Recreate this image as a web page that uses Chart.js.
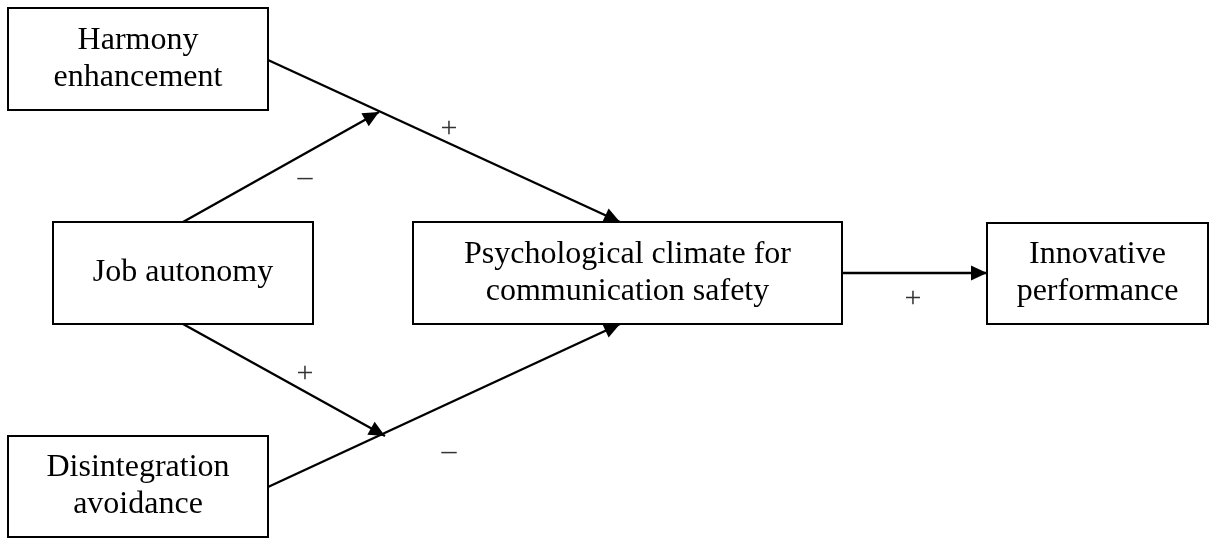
<!DOCTYPE html>
<html>
<head>
<meta charset="utf-8">
<script src="https://cdn.jsdelivr.net/npm/chart.js@4"></script>
<style>
  html, body { margin: 0; padding: 0; background: #fff; }
  #wrap { width: 1210px; height: 538px; }
</style>
</head>
<body>
<div id="wrap"><canvas id="pathChart" width="1210" height="538"></canvas></div>
<script>
// Diagram data (in the chart's own x/y units)
const nodeLabels = [
    ['Harmony', 'enhancement'],
    ['Job autonomy'],
    ['Disintegration', 'avoidance'],
    ['Psychological climate for', 'communication safety'],
    ['Innovative', 'performance']
];
const nodeX0 = [8, 53, 8, 413, 987];
const nodeY0 = [8, 222, 436, 222, 223];
const nodeX1 = [268, 313, 268, 842, 1208];
const nodeY1 = [110, 324, 537, 324, 324];

// paths: from (x, y) to (x, y)
const pathFromX = [268, 183, 183, 268, 842];
const pathFromY = [60, 222, 324, 487, 273];
const pathToX = [620, 379, 385, 620, 987];
const pathToY = [222, 112, 436, 324, 273];

const signs = ['+', '\u2013', '+', '\u2013', '+'];
const signX = [449, 305, 305, 449, 913];
const signY = [129, 178, 374, 452, 299];

const datasets = pathFromX.map((x, i) => ({
    data: [{ x: x, y: pathFromY[i] }, { x: pathToX[i], y: pathToY[i] }],
    showLine: true,
    borderColor: '#000',
    borderWidth: 2.4,
    pointRadius: 0
}));

const diagramPlugin = {
    id: 'diagram',
    afterDatasetsDraw(chart) {
        const c = chart.ctx;
        const sx = chart.scales.x, sy = chart.scales.y;
        c.save();
        // arrow heads
        c.fillStyle = '#000';
        pathFromX.forEach((x, i) => {
            const ax = sx.getPixelForValue(x), ay = sy.getPixelForValue(pathFromY[i]);
            const bx = sx.getPixelForValue(pathToX[i]), by = sy.getPixelForValue(pathToY[i]);
            const ang = Math.atan2(by - ay, bx - ax);
            const len = 16, half = 7.5;
            c.beginPath();
            c.moveTo(bx, by);
            c.lineTo(bx - len * Math.cos(ang) + half * Math.sin(ang), by - len * Math.sin(ang) - half * Math.cos(ang));
            c.lineTo(bx - len * Math.cos(ang) - half * Math.sin(ang), by - len * Math.sin(ang) + half * Math.cos(ang));
            c.closePath();
            c.fill();
        });
        // boxes
        c.strokeStyle = '#000';
        c.lineWidth = 2;
        c.font = '32px "Liberation Serif", "Times New Roman", serif';
        c.textAlign = 'center';
        c.textBaseline = 'middle';
        nodeLabels.forEach((lines, i) => {
            const x0 = sx.getPixelForValue(nodeX0[i]), x1 = sx.getPixelForValue(nodeX1[i]);
            const y0 = sy.getPixelForValue(nodeY0[i]), y1 = sy.getPixelForValue(nodeY1[i]);
            c.fillStyle = '#fff';
            c.fillRect(x0, y0, x1 - x0, y1 - y0);
            c.strokeRect(x0, y0, x1 - x0, y1 - y0);
            c.fillStyle = '#000';
            const lh = 37;
            const cx = (x0 + x1) / 2, cy = (y0 + y1) / 2;
            lines.forEach((t, j) => {
                c.fillText(t, cx, cy + (j - (lines.length - 1) / 2) * lh);
            });
        });
        // signs
        c.fillStyle = '#333';
        c.font = '30px "Liberation Serif", "Times New Roman", serif';
        signs.forEach((s, i) => {
            c.fillText(s, sx.getPixelForValue(signX[i]), sy.getPixelForValue(signY[i]));
        });
        c.restore();
    }
};

new Chart(document.getElementById('pathChart').getContext('2d'), {
    type: 'scatter',
    data: { datasets },
    options: {
        responsive: false,
        animation: false,
        layout: { padding: 0 },
        plugins: { legend: { display: false }, tooltip: { enabled: false } },
        scales: {
            x: { display: false, min: 0, max: 1210 },
            y: { display: false, min: 0, max: 538, reverse: true }
        }
    },
    plugins: [diagramPlugin]
});
</script>
</body>
</html>
